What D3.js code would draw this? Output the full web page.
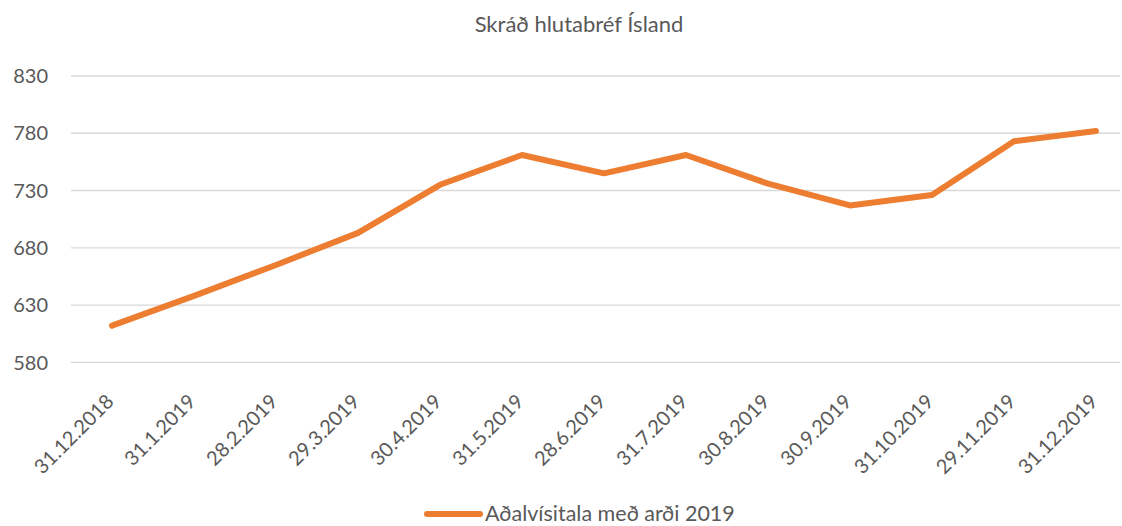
<!DOCTYPE html>
<html><head><meta charset="utf-8">
<script src="https://cdn.jsdelivr.net/npm/d3@7/dist/d3.min.js"></script>
<style>body{margin:0;background:#fff}svg{display:block}text{font-family:Lato,"Open Sans",sans-serif;fill:#595959}</style>
</head><body>
<svg id="c" width="1122" height="526"></svg>
<script>
const title = "Skráð hlutabréf Ísland";
const seriesName = "Aðalvísitala með arði 2019";
const dates = ["31.12.2018","31.1.2019","28.2.2019","29.3.2019","30.4.2019","31.5.2019","28.6.2019","31.7.2019","30.8.2019","30.9.2019","31.10.2019","29.11.2019","31.12.2019"];
const values = [612, 638, 665, 693, 735, 761, 745, 761, 736, 717, 726, 773, 782];
const yTicks = [580, 630, 680, 730, 780, 830];

const svg = d3.select("#c");
const x = d3.scalePoint().domain(dates).range([112, 1096]);
const y = d3.scaleLinear().domain([580, 830]).range([362.3, 76]);

// gridlines
svg.append("g").selectAll("line").data(yTicks).join("line")
  .attr("x1", 71).attr("x2", 1120)
  .attr("y1", d => y(d)).attr("y2", d => y(d))
  .attr("stroke", "#d9d9d9").attr("stroke-width", 1.3);

// y labels
svg.append("g").selectAll("text").data(yTicks).join("text")
  .attr("x", 48).attr("y", d => y(d)).attr("dy", "0.36em")
  .attr("text-anchor", "end").style("font-size", "20px")
  .text(d => d);

// x labels
svg.append("g").selectAll("text").data(dates).join("text")
  .attr("text-anchor", "end").style("font-size", "20px")
  .attr("transform", d => `translate(${x(d) - 7},${393}) rotate(-45)`)
  .attr("dy", "0.7em")
  .text(d => d);

// line
svg.append("path").datum(values.map((v, i) => [dates[i], v]))
  .attr("fill", "none").attr("stroke", "#ED7D31").attr("stroke-width", 6)
  .attr("stroke-linecap", "round").attr("stroke-linejoin", "round")
  .attr("d", d3.line().x(d => x(d[0])).y(d => y(d[1])));

// title
svg.append("text").attr("x", 579).attr("y", 32).attr("text-anchor", "middle")
  .style("font-size", "22px").text(title);

// legend
const lg = svg.append("g");
lg.append("line").attr("x1", 427).attr("x2", 480).attr("y1", 514).attr("y2", 514)
  .attr("stroke", "#ED7D31").attr("stroke-width", 6).attr("stroke-linecap", "round");
lg.append("text").attr("x", 485).attr("y", 513).attr("dy", "0.36em")
  .style("font-size", "21.5px").text(seriesName);
</script>
</body></html>
